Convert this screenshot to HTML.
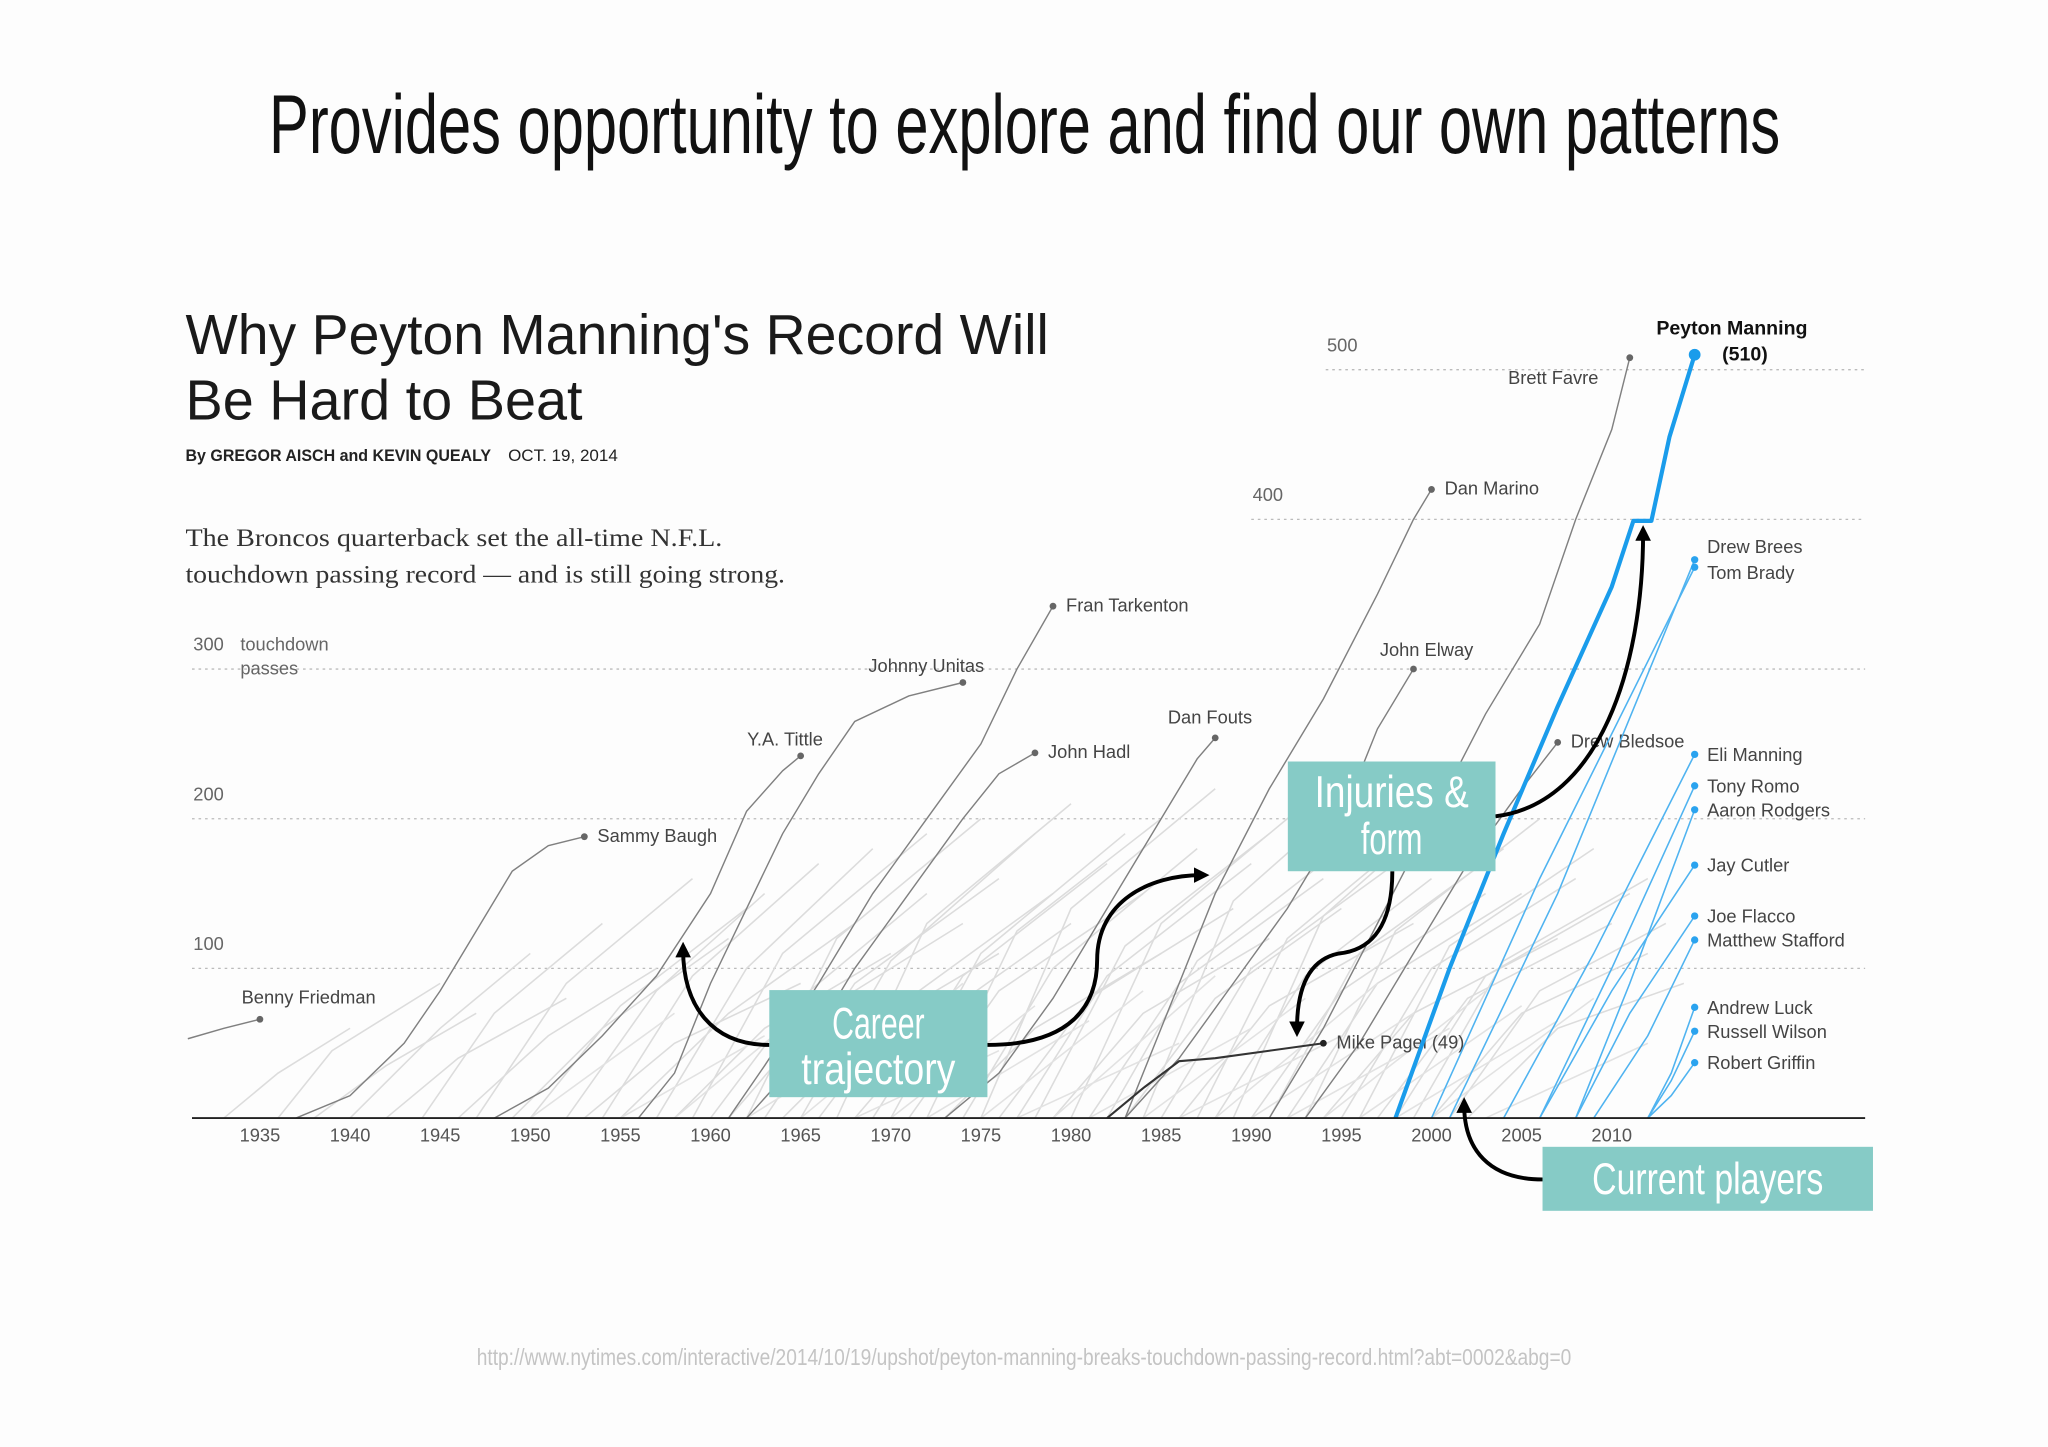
<!DOCTYPE html>
<html><head><meta charset="utf-8"><title>Peyton Manning record</title>
<style>
html,body{margin:0;padding:0;background:#fdfdfd;}
svg{display:block;}
text{font-family:"Liberation Sans",sans-serif;}
</style></head>
<body>
<svg id="chart" width="2048" height="1447" viewBox="0 0 1568 1107.8" xmlns="http://www.w3.org/2000/svg">
<rect x="0" y="0" width="1568" height="1108" fill="#fdfdfd"/>
<text x="206" y="117" font-size="64" fill="#111" textLength="1157" lengthAdjust="spacingAndGlyphs">Provides opportunity to explore and find our own patterns</text>
<text x="142" y="271" font-size="43" fill="#1a1a1a" textLength="661" lengthAdjust="spacingAndGlyphs">Why Peyton Manning's Record Will</text>
<text x="142" y="321" font-size="43" fill="#1a1a1a" textLength="304" lengthAdjust="spacingAndGlyphs">Be Hard to Beat</text>
<text x="142" y="353" font-size="12.5" fill="#222" font-weight="bold" textLength="234" lengthAdjust="spacingAndGlyphs">By GREGOR AISCH and KEVIN QUEALY</text>
<text x="389" y="353" font-size="12.5" fill="#222" textLength="84" lengthAdjust="spacingAndGlyphs">OCT. 19, 2014</text>
<text x="142" y="418" font-size="19" fill="#333" style="font-family:'Liberation Serif',serif" textLength="411" lengthAdjust="spacingAndGlyphs">The Broncos quarterback set the all-time N.F.L.</text>
<text x="142" y="446" font-size="19" fill="#333" style="font-family:'Liberation Serif',serif" textLength="459" lengthAdjust="spacingAndGlyphs">touchdown passing record — and is still going strong.</text>
<g id="grid"></g>
<g id="bg"></g>
<g id="hl"></g>
<g id="cur"></g>
<g id="axis"></g>
<g id="annot"></g>
<text x="784" y="1045" font-size="18" fill="#c4c4c4" text-anchor="middle" textLength="838" lengthAdjust="spacingAndGlyphs">http://www.nytimes.com/interactive/2014/10/19/upshot/peyton-manning-breaks-touchdown-passing-record.html?abt=0002&amp;abg=0</text>
</svg>
<script>
// ---- data ----
const tickYears = [1935,1940,1945,1950,1955,1960,1965,1970,1975,1980,1985,1990,1995,2000,2005,2010];
const gridValues = [100,200,300,400,500];
// highlighted retired players: names, years and cumulative TD values
const hlNames = ["Benny Friedman","Sammy Baugh","Y.A. Tittle","Johnny Unitas","Fran Tarkenton","John Hadl","Dan Fouts","Dan Marino","John Elway","Brett Favre","Drew Bledsoe","Mike Pagel (49)"];
const hlYears = [
 [1931,1933,1935],
 [1937,1940,1943,1945,1947,1949,1951,1953],
 [1948,1951,1954,1957,1960,1962,1964,1965],
 [1956,1958,1960,1962,1964,1966,1968,1971,1974],
 [1961,1963,1966,1969,1972,1975,1977,1979],
 [1962,1965,1968,1971,1974,1976,1978],
 [1973,1976,1979,1982,1985,1987,1988],
 [1983,1985,1988,1991,1994,1997,1999,2000],
 [1983,1986,1989,1992,1995,1997,1999],
 [1991,1994,1997,2000,2003,2006,2008,2010,2011],
 [1993,1996,1999,2002,2005,2007],
 [1982,1984,1986,1988,1991,1994]
];
const hlValues = [
 [53,60,66],
 [0,15,50,85,125,165,182,188],
 [0,20,55,95,150,205,232,242],
 [0,30,90,140,190,230,265,282,291],
 [0,35,90,150,200,250,300,342],
 [0,40,100,150,200,230,244],
 [0,30,80,140,200,240,254],
 [0,60,150,220,280,350,400,420],
 [0,40,90,140,200,260,300],
 [0,60,130,200,270,330,400,460,508],
 [0,50,110,170,220,251],
 [0,20,38,40,45,50]
];
const hlLabelDx = [-14,10,-12,-28,10,10,-4,10,10,-24,10,10];
const hlLabelDy = [-12,4,-8,-8,4,4,-11,4,-10,20,4,4];
const hlLabelAnchor = ["start","start","middle","middle","start","start","middle","start","middle","end","start","start"];
// Peyton Manning
const pmYears = [1998,2001,2004,2007,2010,2011.2,2012.2,2013.2,2014.6];
const pmValues = [0,100,190,275,355,399,399,455,510];
// current players
const curNames = ["Drew Brees","Tom Brady","Eli Manning","Tony Romo","Aaron Rodgers","Jay Cutler","Joe Flacco","Matthew Stafford","Andrew Luck","Russell Wilson","Robert Griffin"];
const curStart = [2001,2000,2004,2006,2008,2006,2008,2009,2012,2012,2012];
const curMidYear = [2007,2006,2009,2010,2011,2010,2011,2012,2013.3,2013.3,2013.3];
const curMidValue = [150,160,110,100,90,85,70,55,30,25,15];
const curEnd = [373,368,243,222,206,169,135,119,74,58,37];
const curLabelDy = [-10,4,0,0,0,0,0,0,0,0,0];
// background careers: start year, year of mid point, value at mid, end year, final total
const bgStart = [1933,1936,1938,1940,1942,1944,1946,1947,1949,1950,1952,1953,1954,1955,1957,1958,1959,1960,1961,1962,1963,1964,1965,1966,1967,1968,1969,1970,1971,1972,1973,1974,1975,1976,1977,1978,1979,1980,1981,1982,1983,1984,1985,1986,1987,1988,1989,1990,1991,1992,1993,1994,1995,1996,1997,1998,1999,2000,2001,2002];
const bgMidYear = [1936,1939,1942,1945,1946,1948,1951,1952,1954,1955,1957,1958,1959,1961,1962,1963,1964,1965,1966,1967,1968,1969,1970,1971,1972,1973,1974,1975,1976,1977,1978,1979,1980,1981,1982,1983,1984,1985,1986,1987,1988,1989,1990,1991,1992,1993,1994,1995,1996,1997,1998,1999,2000,2001,2002,2003,2004,2005,2006,2007];
const bgMidValue = [30,45,35,60,40,70,55,90,60,75,85,50,95,70,100,60,110,80,70,120,90,60,105,80,130,70,95,110,85,125,60,100,140,80,95,115,70,130,90,105,80,145,100,75,120,95,135,85,110,90,125,70,100,115,80,95,105,70,85,60];
const bgEnd = [1940,1945,1947,1950,1952,1954,1957,1959,1961,1962,1963,1965,1966,1968,1969,1970,1972,1972,1974,1975,1976,1976,1978,1979,1980,1980,1982,1983,1984,1985,1985,1987,1988,1989,1990,1991,1991,1993,1994,1995,1995,1997,1998,1999,2000,2000,2002,2003,2004,2005,2006,2007,2008,2009,2010,2011,2012,2012,2013,2014];
const bgTotal = [60,90,70,110,80,130,100,160,120,140,150,90,170,130,180,110,190,150,130,200,160,110,190,150,210,130,170,190,150,200,110,180,220,140,170,190,120,210,160,180,140,230,170,130,200,160,220,150,180,150,200,120,160,180,130,150,160,110,130,90];
// second set of shorter background careers
const bg2Start = [1950,1955,1958,1962,1965,1968,1970,1972,1975,1977,1979,1981,1984,1986,1988,1990,1992,1994,1996,1998,2000,2003];
const bg2End = [1958,1963,1966,1970,1974,1976,1978,1981,1984,1986,1988,1990,1993,1995,1997,1999,2001,2003,2005,2007,2009,2012];
const bg2Total = [70,55,80,60,90,45,75,65,85,50,95,60,80,55,90,70,60,85,75,65,80,50];

// ---- scales ----
const NS = "http://www.w3.org/2000/svg";
const xS = yr => 199 + (yr - 1935) * 13.8;
const yS = v => 856 - v * 1.146;
function mk(tag, attrs, parent){ const e=document.createElementNS(NS,tag); for(const k in attrs) e.setAttribute(k,attrs[k]); parent.appendChild(e); return e; }
const G = id => document.getElementById(id);

// grid
const gridStartX = {100:147,200:147,300:147,400:958,500:1015};
gridValues.forEach(v=>{
  const l = mk('line',{x1:gridStartX[v],x2:1428,y1:yS(v),y2:yS(v),stroke:'#bbb','stroke-width':1,'stroke-dasharray':'2,3'},G('grid'));
  
  
  const t = mk('text',{x:gridStartX[v]+1,y:yS(v)-14,'font-size':14,fill:'#666'},G('grid'));
  t.textContent = v;
  
  
});
[["touchdown",yS(300)-14],["passes",yS(300)+4]].forEach(([s,y])=>{
  const t = mk('text',{x:184,y:y,'font-size':14,fill:'#666'},G('grid'));
  t.textContent=s;
  
  
});

// background lines
for(let i=0;i<bgStart.length;i++){
  const pts=[[bgStart[i],0],[bgMidYear[i],bgMidValue[i]],[bgEnd[i],bgTotal[i]]].map(p=>xS(p[0])+','+yS(p[1])).join(' ');
  const p = mk('polyline',{points:pts,fill:'none',stroke:'#dcdcdc','stroke-width':1.2},G('bg'));
  
  
}
for(let i=0;i<bg2Start.length;i++){
  const pts=[[bg2Start[i],0],[bg2End[i],bg2Total[i]]].map(p=>xS(p[0])+','+yS(p[1])).join(' ');
  const p = mk('polyline',{points:pts,fill:'none',stroke:'#e2e2e2','stroke-width':1.2},G('bg'));
  
  
}

// highlighted retired players
hlNames.forEach((n,i)=>{
  const pts = hlYears[i].map((yr,j)=>xS(yr)+','+yS(hlValues[i][j])).join(' ');
  const p = mk('polyline',{points:pts,fill:'none',stroke:i===11?'#333':'#808080','stroke-width':i===11?1.6:1.1},G('hl'));
  
  
  const ly = hlYears[i][hlYears[i].length-1], lv = hlValues[i][hlValues[i].length-1];
  const c = mk('circle',{cx:xS(ly),cy:yS(lv),r:2.6,fill:i===11?'#222':'#666'},G('hl'));
  
  
  const t = mk('text',{x:xS(ly)+hlLabelDx[i],y:yS(lv)+hlLabelDy[i],'font-size':14,fill:'#444','text-anchor':hlLabelAnchor[i]},G('hl'));
  t.textContent = n;
  
  
});

// current players
curNames.forEach((n,i)=>{
  const pts=[[curStart[i],0],[curMidYear[i],curMidValue[i]],[2014.6,curEnd[i]]].map(p=>xS(p[0])+','+yS(p[1])).join(' ');
  const p = mk('polyline',{points:pts,fill:'none',stroke:'#4fb3f0','stroke-width':1.2},G('cur'));
  
  
  const c = mk('circle',{cx:xS(2014.6),cy:yS(curEnd[i]),r:2.8,fill:'#2aa3ef'},G('cur'));
  
  
  const t = mk('text',{x:1307,y:yS(curEnd[i])+5+curLabelDy[i],'font-size':14,fill:'#444'},G('cur'));
  t.textContent=n;
  
  
});
// Peyton Manning
(function(){
  const pts = pmYears.map((yr,j)=>xS(yr)+','+yS(pmValues[j])).join(' ');
  const p = mk('polyline',{points:pts,fill:'none',stroke:'#1a9ceb','stroke-width':3.2,'stroke-linejoin':'round'},G('cur'));
  
  
  const last = pmValues.length-1;
  const c = mk('circle',{cx:xS(pmYears[last]),cy:yS(pmValues[last]),r:4.5,fill:'#1a9ceb'},G('cur'));
  
  
  const t1 = mk('text',{x:1326,y:256,'font-size':15,'font-weight':'bold',fill:'#111','text-anchor':'middle'},G('cur'));
  t1.textContent='Peyton Manning';
  
  
  const t2 = mk('text',{x:1336,y:276,'font-size':15,'font-weight':'bold',fill:'#111','text-anchor':'middle'},G('cur'));
  t2.textContent='(510)';
  
  
})();

// x axis
const ax = mk('line',{x1:147,x2:1428,y1:856,y2:856,stroke:'#222','stroke-width':1.5},G('axis'));


tickYears.forEach(yr=>{
  const t = mk('text',{x:xS(yr),y:874,'font-size':14,fill:'#555','text-anchor':'middle'},G('axis'));
  t.textContent=yr;
  
  
});

// annotations
const A = G('annot');
const defs = mk('defs',{},A);
const mkr = mk('marker',{id:'ah',viewBox:'0 0 10 10',refX:5,refY:5,markerWidth:4,markerHeight:4,orient:'auto-start-reverse'},defs);
mk('path',{d:'M0,0 L10,5 L0,10 z',fill:'#000'},mkr);
const arrows = [
 ['career-arrow-left','M589,800 C545,800 523,770 523,727'],
 ['career-arrow-right','M756,800 C820,800 840,770 840,735 C840,690 880,670 920,670'],
 ['injuries-arrow-down','M1066,667 C1066,715 1045,728 1025,730 C1000,735 993,760 993,788'],
 ['injuries-arrow-up','M1145,625 C1225,615 1258,510 1258,408'],
 ['current-arrow','M1181,903 C1140,903 1121,880 1121,846']
];
arrows.forEach(([n,d])=>{
  const p = mk('path',{d:d,fill:'none',stroke:'#000','stroke-width':3,'marker-end':'url(#ah)'},A);
  
  
});
const boxes = [
 ['career-trajectory-box',589,758,167,82,[['Career',795],['trajectory',830]]],
 ['injuries-form-box',986,583,159,84,[['Injuries &',618],['form',654]]],
 ['current-players-box',1181,878,253,49,[['Current players',914]]]
];
boxes.forEach(([n,x,y,w,h,lines])=>{
  const r = mk('rect',{x:x,y:y,width:w,height:h,fill:'#86cbc6'},A);
  
  
  lines.forEach(([s,by])=>{
    const t = mk('text',{x:x+w/2,y:by,'font-size':34,fill:'#fff','text-anchor':'middle',textLength:s.length*11.8,lengthAdjust:'spacingAndGlyphs'},A);
    t.textContent=s;
    
    
  });
});
</script>
</body></html>
